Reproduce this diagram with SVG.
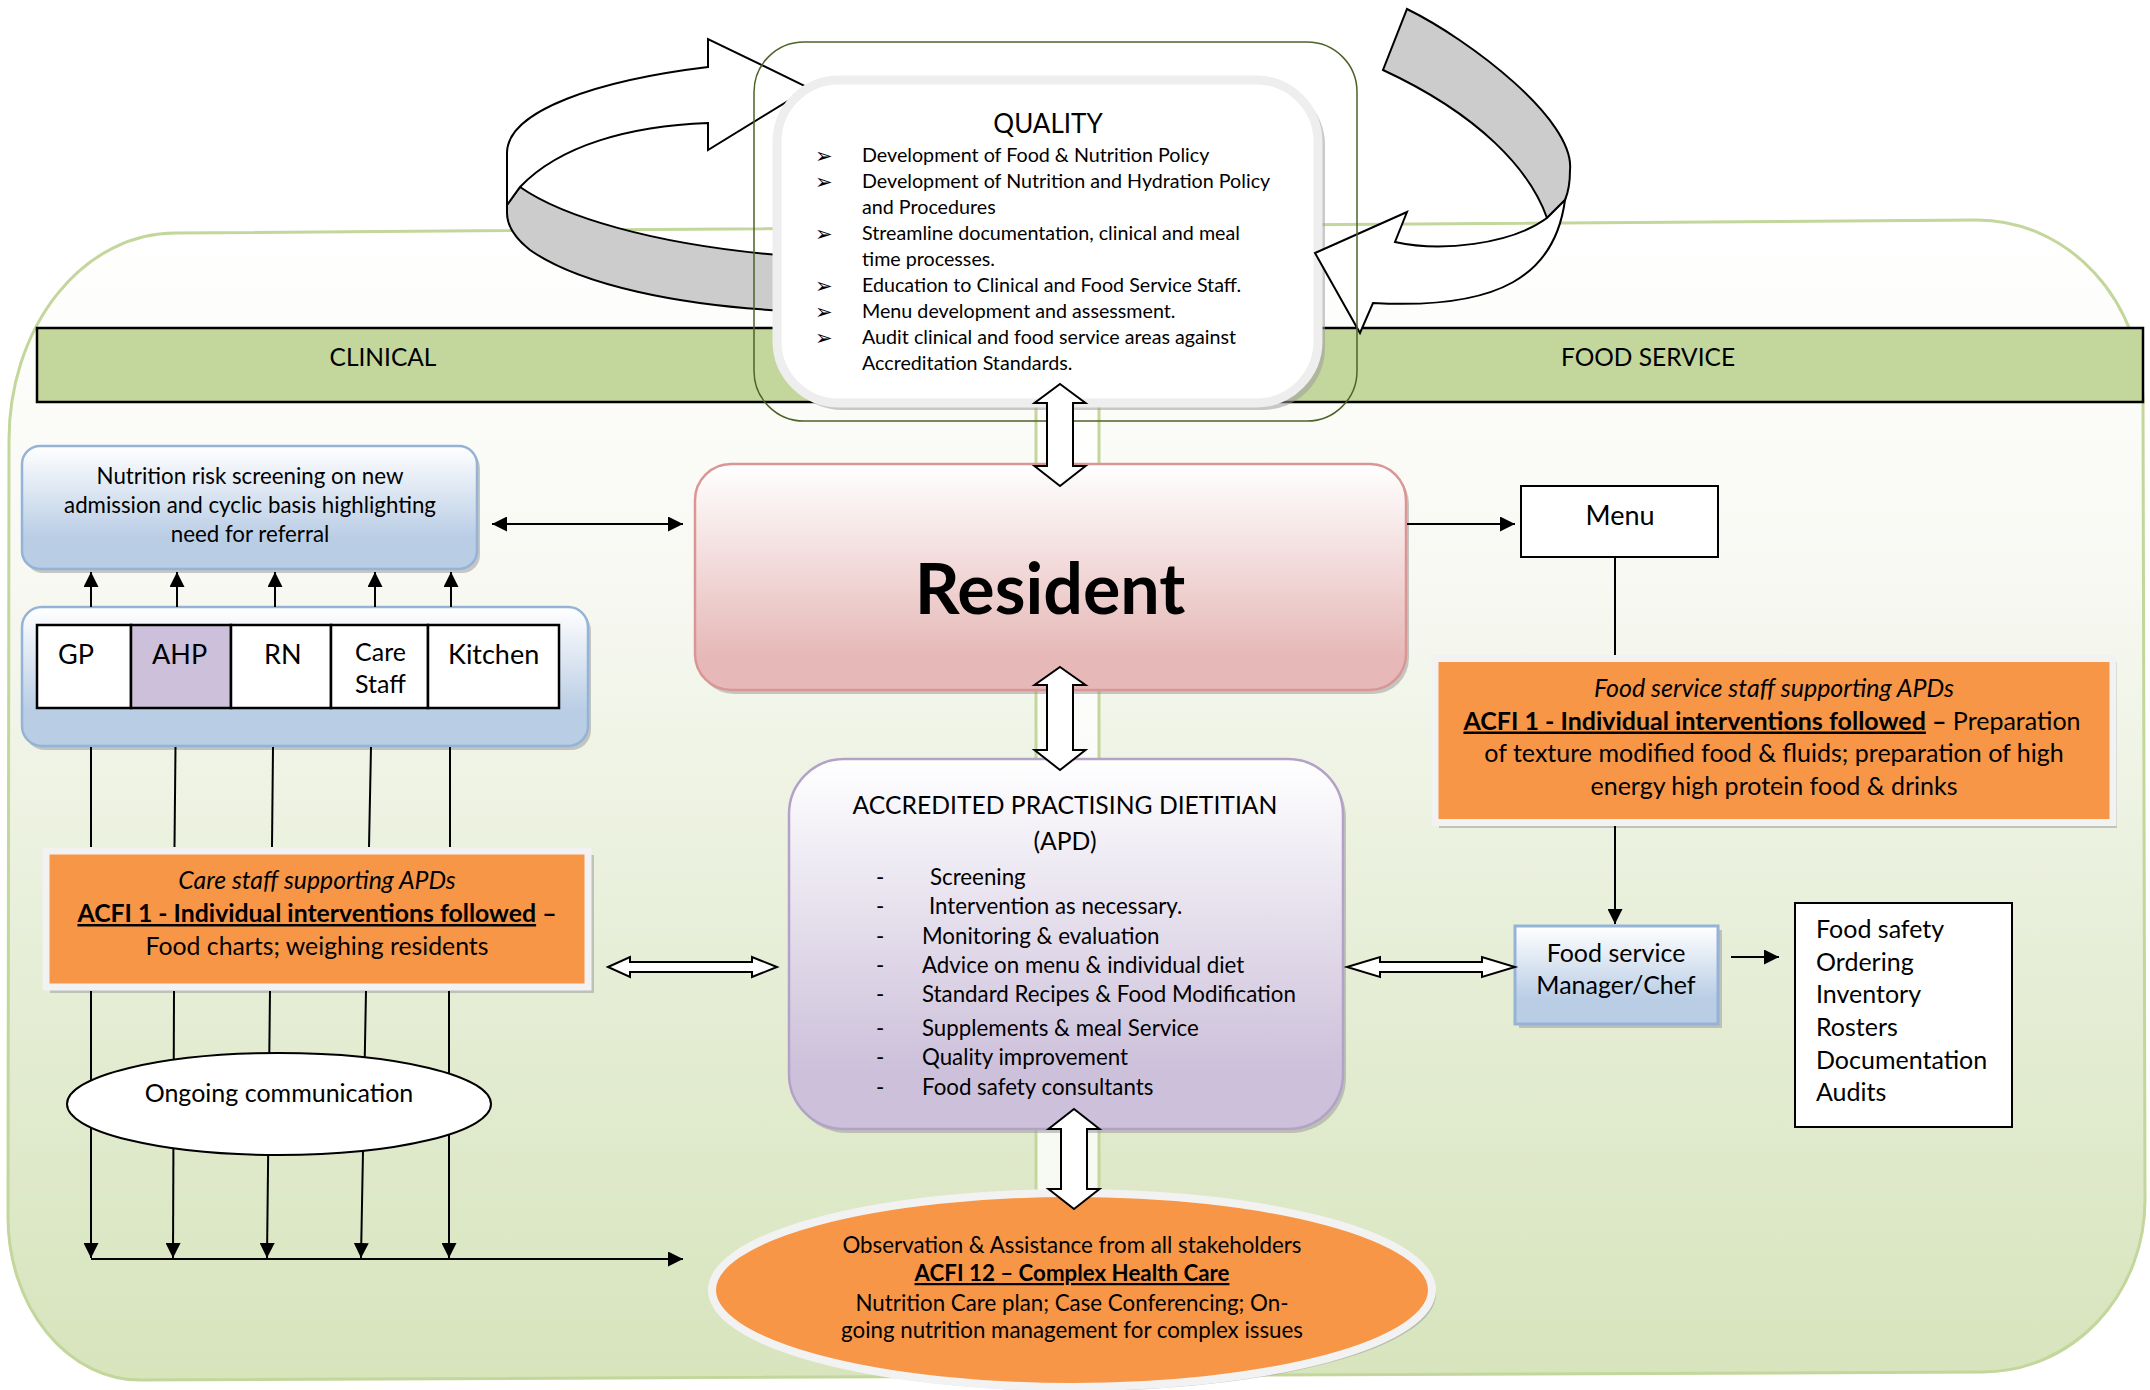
<svg xmlns="http://www.w3.org/2000/svg" width="2150" height="1390" viewBox="0 0 2150 1390">
<defs>
<style>
.t{font-family:Lato,"Liberation Sans",sans-serif;fill:#000}
.ln{stroke:#000;stroke-width:2;fill:none}
.ha{fill:#fff;stroke:#000;stroke-width:2;stroke-linejoin:miter}
.sh{fill:#9c9c9c;opacity:.55}
.blt{font-family:"DejaVu Sans",sans-serif;font-size:21px}
</style>
<linearGradient id="bg" x1="0" y1="220" x2="0" y2="1380" gradientUnits="userSpaceOnUse">
<stop offset="0" stop-color="#ffffff"/><stop offset="0.3" stop-color="#f8f9f3"/><stop offset="0.6" stop-color="#e8efda"/><stop offset="1" stop-color="#d7e4bc"/></linearGradient>
<linearGradient id="blue" x1="0" y1="0" x2="0" y2="1"><stop offset="0" stop-color="#ffffff"/><stop offset="0.75" stop-color="#b9cde5"/><stop offset="1" stop-color="#b9cde5"/></linearGradient>
<linearGradient id="pink" x1="0" y1="0" x2="0" y2="1"><stop offset="0" stop-color="#ffffff"/><stop offset="0.85" stop-color="#e6b9b8"/><stop offset="1" stop-color="#e6b9b8"/></linearGradient>
<linearGradient id="purp" x1="0" y1="0" x2="0" y2="1"><stop offset="0" stop-color="#ffffff"/><stop offset="0.85" stop-color="#ccc0da"/><stop offset="1" stop-color="#ccc0da"/></linearGradient>
<marker id="ah" viewBox="0 0 10 10" refX="10" refY="5" markerWidth="15" markerHeight="15" markerUnits="userSpaceOnUse" orient="auto-start-reverse"><path d="M0,0 L10,5 L0,10 z" fill="#000"/></marker>
</defs>

<g id="background">
<path d="M 9,440 A 166 207 0 0 1 175,233 L 1977,220 A 166 180 0 0 1 2143,400 L 2145,1200 A 162 172 0 0 1 1983,1372 L 140,1380 A 132 163 0 0 1 8,1217 Z" fill="url(#bg)" stroke="#c3d69b" stroke-width="3"/>
<rect x="1036" y="300" width="63" height="960" fill="#ffffff" fill-opacity="0.75" stroke="#c3d69b" stroke-width="3"/>
</g>

<g id="bar">
<rect x="37" y="328" width="2106" height="74" fill="#c3d69b" stroke="#000" stroke-width="2.5"/>
<text class="t" x="383" y="366" text-anchor="middle" font-size="24.5">CLINICAL</text>
<text class="t" x="1648" y="366" text-anchor="middle" font-size="24.5">FOOD SERVICE</text>
</g>

<g id="cycle-left">
<path d="M 520,187 C 560,215 650,245 790,256 L 790,311 C 680,306 580,285 530,250 C 515,238 507,225 507,213 L 507,205 Z" fill="#cccccc" stroke="#000" stroke-width="2"/>
<path d="M 708,67 L 708,39 L 809,88 L 708,150 L 708,123 C 630,126 560,145 520,187 L 507,205 L 507,153 C 507,110 600,80 708,67 Z" fill="#fff" stroke="#000" stroke-width="2"/>
</g>

<g id="quality">
<rect x="780" y="83" width="545" height="327" rx="62" class="sh"/>
<rect x="777" y="80" width="541" height="323" rx="62" fill="#fff" stroke="#eeeeee" stroke-width="9"/>
<text class="t" x="1048" y="133" text-anchor="middle" font-size="26">QUALITY</text>
<g class="blt">
<text x="815" y="163">➢</text><text x="815" y="189">➢</text><text x="815" y="241">➢</text><text x="815" y="293">➢</text><text x="815" y="319">➢</text><text x="815" y="345">➢</text>
</g>
<g class="t" font-size="19.7">
<text x="862" y="162">Development of Food &amp; Nutrition Policy</text>
<text x="862" y="188">Development of Nutrition and Hydration Policy</text>
<text x="862" y="214">and Procedures</text>
<text x="862" y="240">Streamline documentation, clinical and meal</text>
<text x="862" y="266">time processes.</text>
<text x="862" y="292">Education to Clinical and Food Service Staff.</text>
<text x="862" y="318">Menu development and assessment.</text>
<text x="862" y="344">Audit clinical and food service areas against</text>
<text x="862" y="370">Accreditation Standards.</text>
</g>
</g>

<g id="cycle-right">
<path d="M 1407,9 C 1470,40 1575,120 1570,170 C 1570,185 1568,193 1565,200 L 1547,218 C 1530,170 1480,115 1383,70 Z" fill="#cccccc" stroke="#000" stroke-width="2"/>
<path d="M 1565,200 C 1555,275 1500,310 1373,303 L 1360,333 L 1315,253 L 1407,212 L 1395,242 C 1440,252 1510,245 1547,218 Z" fill="#fff" stroke="#000" stroke-width="2"/>
</g>

<g id="quality-frame">
<rect x="754" y="42" width="603" height="379" rx="50" fill="none" stroke="#4f6228" stroke-width="1.5"/>
</g>

<g id="resident">
<rect x="698" y="468" width="711" height="226" rx="36" class="sh"/>
<rect x="695" y="464" width="711" height="226" rx="36" fill="url(#pink)" stroke="#d99694" stroke-width="2.5"/>
<text class="t" x="1050" y="614" text-anchor="middle" font-size="70" font-weight="bold">Resident</text>
</g>

<g id="nutrition-screening">
<rect x="25" y="450" width="455" height="123" rx="18" class="sh"/>
<rect x="22" y="446" width="455" height="123" rx="18" fill="url(#blue)" stroke="#95b3d7" stroke-width="2.5"/>
<g class="t" font-size="22.3" text-anchor="middle">
<text x="250" y="484">Nutrition risk screening on new</text>
<text x="250" y="513">admission and cyclic basis highlighting</text>
<text x="250" y="542">need for referral</text>
</g>
</g>

<g id="staff">
<rect x="25" y="611" width="566" height="139" rx="20" class="sh"/>
<rect x="22" y="607" width="566" height="139" rx="20" fill="url(#blue)" stroke="#95b3d7" stroke-width="2.5"/>
<rect x="37" y="625" width="94" height="83" fill="#fff" stroke="#000" stroke-width="2.5"/>
<rect x="131" y="625" width="100" height="83" fill="#ccc0da" stroke="#000" stroke-width="2.5"/>
<rect x="231" y="625" width="100" height="83" fill="#fff" stroke="#000" stroke-width="2.5"/>
<rect x="331" y="625" width="97" height="83" fill="#fff" stroke="#000" stroke-width="2.5"/>
<rect x="428" y="625" width="131" height="83" fill="#fff" stroke="#000" stroke-width="2.5"/>
<g class="t" font-size="27">
<text x="58" y="664">GP</text>
<text x="152" y="664">AHP</text>
<text x="264" y="664">RN</text>
<text x="355" y="661" font-size="25">Care</text>
<text x="355" y="693" font-size="25">Staff</text>
<text x="448" y="664">Kitchen</text>
</g>
</g>

<g id="care-staff">
<rect x="50" y="855" width="544" height="138" class="sh"/>
<rect x="46" y="851" width="542" height="136" fill="#f79646" stroke="#f2f2f2" stroke-width="7"/>
<g class="t" font-size="24.8" text-anchor="middle">
<text x="317" y="889" font-style="italic">Care staff supporting APDs</text>
<text x="317" y="922"><tspan font-weight="bold" text-decoration="underline">ACFI 1 - Individual interventions followed</tspan><tspan font-weight="bold"> –</tspan></text>
<text x="317" y="955">Food charts; weighing residents</text>
</g>
</g>

<g id="apd">
<rect x="792" y="763" width="554" height="370" rx="55" class="sh"/>
<rect x="789" y="759" width="554" height="370" rx="55" fill="url(#purp)" stroke="#b3a2c7" stroke-width="2.5"/>
<g class="t" text-anchor="middle" font-size="24.7">
<text x="1065" y="814">ACCREDITED PRACTISING DIETITIAN</text>
<text x="1065" y="850">(APD)</text>
</g>
<g class="t" font-size="22.3">
<text x="876" y="885">-</text><text x="930" y="885">Screening</text>
<text x="876" y="914">-</text><text x="929" y="914">Intervention as necessary.</text>
<text x="876" y="944">-</text><text x="922" y="944">Monitoring &amp; evaluation</text>
<text x="876" y="973">-</text><text x="922" y="973">Advice on menu &amp; individual diet</text>
<text x="876" y="1002">-</text><text x="922" y="1002">Standard Recipes &amp; Food Modification</text>
<text x="876" y="1036">-</text><text x="922" y="1036">Supplements &amp; meal Service</text>
<text x="876" y="1065">-</text><text x="922" y="1065">Quality improvement</text>
<text x="876" y="1095">-</text><text x="922" y="1095">Food safety consultants</text>
</g>
</g>

<g id="menu">
<rect x="1521" y="486" width="197" height="71" fill="#fff" stroke="#000" stroke-width="2"/>
<text class="t" x="1620" y="525" text-anchor="middle" font-size="27">Menu</text>
</g>

<g id="food-service-staff">
<rect x="1439" y="662" width="678" height="166" class="sh"/>
<rect x="1435" y="658.5" width="678" height="164" fill="#f79646" stroke="#f2f2f2" stroke-width="7"/>
<g class="t" font-size="25" text-anchor="middle">
<text x="1774" y="697" font-style="italic">Food service staff supporting APDs</text>
<text x="1772" y="729.5"><tspan font-weight="bold" text-decoration="underline">ACFI 1 - Individual interventions followed</tspan><tspan font-weight="bold"> –</tspan> Preparation</text>
<text x="1774" y="762">of texture modified food &amp; fluids; preparation of high</text>
<text x="1774" y="794.5">energy high protein food &amp; drinks</text>
</g>
</g>

<g id="manager">
<rect x="1519" y="930" width="203" height="98" class="sh"/>
<rect x="1515" y="926" width="203" height="98" fill="url(#blue)" stroke="#95b3d7" stroke-width="3"/>
<g class="t" font-size="25" text-anchor="middle">
<text x="1616" y="962">Food service</text>
<text x="1616" y="994">Manager/Chef</text>
</g>
</g>

<g id="tasks">
<rect x="1795" y="903" width="217" height="224" fill="#fff" stroke="#000" stroke-width="2"/>
<g class="t" font-size="25">
<text x="1816" y="938">Food safety</text>
<text x="1816" y="971">Ordering</text>
<text x="1816" y="1003">Inventory</text>
<text x="1816" y="1036">Rosters</text>
<text x="1816" y="1069">Documentation</text>
<text x="1816" y="1101">Audits</text>
</g>
</g>

<g id="observation">
<ellipse cx="1075" cy="1294" rx="361" ry="97" class="sh"/>
<ellipse cx="1072" cy="1290" rx="360" ry="97" fill="#f79646" stroke="#f2f2f2" stroke-width="8"/>
<g class="t" font-size="22.3" text-anchor="middle">
<text x="1072" y="1253">Observation &amp; Assistance from all stakeholders</text>
<text x="1072" y="1281" font-weight="bold" text-decoration="underline">ACFI 12 – Complex Health Care</text>
<text x="1072" y="1311">Nutrition Care plan; Case Conferencing; On-</text>
<text x="1072" y="1338">going nutrition management for complex issues</text>
</g>
</g>

<g id="connectors">
<g class="ln">
<line x1="91" y1="607" x2="91" y2="572" marker-end="url(#ah)"/>
<line x1="177" y1="607" x2="177" y2="572" marker-end="url(#ah)"/>
<line x1="275" y1="607" x2="275" y2="572" marker-end="url(#ah)"/>
<line x1="375" y1="607" x2="375" y2="572" marker-end="url(#ah)"/>
<line x1="451" y1="607" x2="451" y2="572" marker-end="url(#ah)"/>
<line x1="91" y1="747" x2="91" y2="847"/>
<line x1="175.5" y1="747" x2="174.5" y2="847"/>
<line x1="273" y1="747" x2="272" y2="847"/>
<line x1="371" y1="747" x2="369" y2="847"/>
<line x1="450" y1="747" x2="450" y2="847"/>
<line x1="91" y1="991" x2="91" y2="1258" marker-end="url(#ah)"/>
<line x1="174" y1="991" x2="173" y2="1258" marker-end="url(#ah)"/>
<line x1="270" y1="991" x2="267" y2="1258" marker-end="url(#ah)"/>
<line x1="366" y1="991" x2="361" y2="1258" marker-end="url(#ah)"/>
<line x1="449" y1="991" x2="449" y2="1258" marker-end="url(#ah)"/>
<line x1="91" y1="1259" x2="683" y2="1259" marker-end="url(#ah)"/>
<line x1="492" y1="524" x2="683" y2="524" marker-start="url(#ah)" marker-end="url(#ah)"/>
<line x1="1407" y1="524" x2="1515" y2="524" marker-end="url(#ah)"/>
<line x1="1615" y1="557" x2="1615" y2="655"/>
<line x1="1615" y1="826" x2="1615" y2="924" marker-end="url(#ah)"/>
<line x1="1731" y1="957" x2="1779" y2="957" marker-end="url(#ah)"/>
</g>
<g class="ha">
<path d="M 1060,384 L 1085.5,403 L 1073,403 L 1073,466 L 1085.5,466 L 1060,486 L 1034.5,466 L 1047,466 L 1047,403 L 1034.5,403 Z"/>
<path d="M 1060,667 L 1085.5,685 L 1073,685 L 1073,750 L 1085.5,750 L 1060,770 L 1034.5,750 L 1047,750 L 1047,685 L 1034.5,685 Z"/>
<path d="M 1074,1109 L 1099.5,1129 L 1087,1129 L 1087,1189 L 1099.5,1189 L 1074,1209 L 1048.5,1189 L 1061,1189 L 1061,1129 L 1048.5,1129 Z"/>
<path d="M 608,967 L 630,957 L 630,962 L 752,962 L 752,957 L 777,967 L 752,977 L 752,972 L 630,972 L 630,977 Z"/>
<path d="M 1347,967 L 1380,957 L 1380,962 L 1482,962 L 1482,957 L 1515,967 L 1482,977 L 1482,972 L 1380,972 L 1380,977 Z"/>
</g>
</g>

<g id="ongoing">
<ellipse cx="279" cy="1104" rx="212" ry="51" fill="#fff" stroke="#000" stroke-width="2"/>
<text class="t" x="279" y="1102" text-anchor="middle" font-size="25">Ongoing communication</text>
</g>
</svg>
